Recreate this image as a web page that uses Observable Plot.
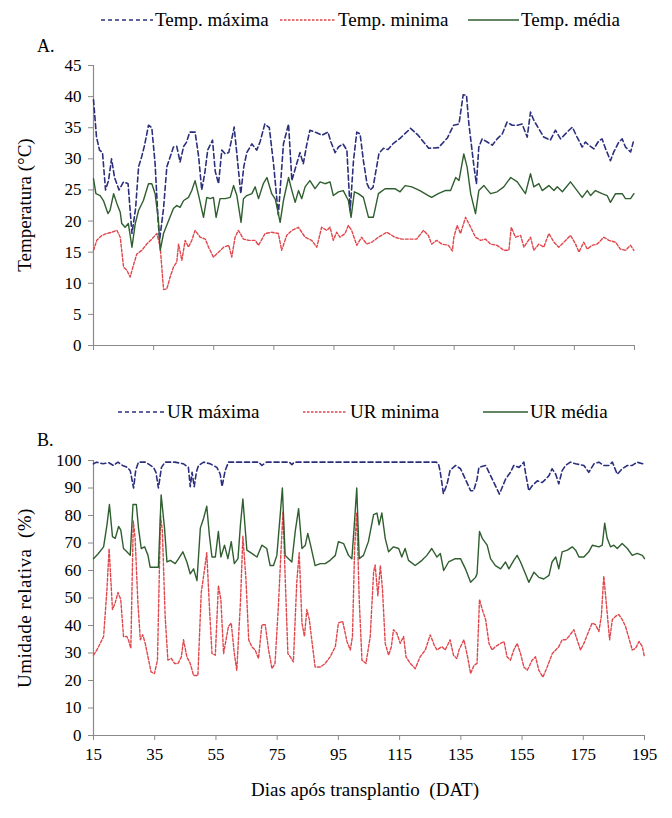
<!DOCTYPE html>
<html><head><meta charset="utf-8">
<script src="https://cdn.jsdelivr.net/npm/d3@7"></script>
<script src="https://cdn.jsdelivr.net/npm/@observablehq/plot@0.6"></script>
<style>
body{margin:0;background:#fff;}
#wrap{position:relative;width:672px;height:818px;font-family:"Liberation Serif","Times New Roman",serif;color:#000;overflow:hidden;}
.t{position:absolute;white-space:nowrap;line-height:1;}
</style></head><body><div id="wrap"></div>
<script>
// ---- Data (day after transplanting, value) ----
const xTicks = [15,35,55,75,95,115,135,155,175,195];
const yTicksA = [0,5,10,15,20,25,30,35,40,45];
const yTicksB = [0,10,20,30,40,50,60,70,80,90,100];

const tMax = [[15,39.5],[16,33.5],[17,31.4],[18,31],[19,25],[20,26.5],[21,30],[22,27],[23.5,25],[25,26.3],[26.5,26],[27.8,18],[29,22],[30,28.7],[31,30.3],[32,32.2],[33.3,35.4],[34.4,35],[35.5,29.2],[36.5,20],[37,17],[38.3,22],[39.4,28.7],[40.5,30.3],[41.6,31.9],[42.7,32],[43.8,29.5],[45,32],[46,32.7],[47,34.3],[48.8,34.3],[50,30.3],[51,25],[52,27.6],[53,31.4],[54.6,33],[55.5,28],[56.6,26],[57.7,31.4],[58.8,30.8],[60,31],[61,33.2],[61.8,35.1],[62.7,30.8],[64,24.4],[65,28.7],[66,31],[67.7,32.4],[69.3,31.4],[70.4,32.7],[72,35.6],[73.5,35],[74.9,29.2],[76.5,21],[78.2,32.4],[79.9,35.6],[81,26.5],[82.6,29.2],[83.7,31],[84.8,29.2],[86,32.4],[87,34.6],[88.7,34.3],[91,33.8],[93,34.3],[94,32.7],[95.4,31],[96.5,31.9],[98,32.4],[99.3,31.4],[100.4,21.7],[101.5,29.7],[102.6,34.3],[103.7,34],[104.8,29.7],[106,26],[107,25],[108,25.4],[110,30.9],[111.5,31.7],[113,31.5],[114.8,32.5],[117,33.3],[120.5,34.9],[123,33.8],[126.5,31.7],[129.8,31.8],[132.8,33.4],[134.8,35.4],[136.6,35.6],[138,40.3],[139.1,40.2],[139.9,35.6],[141.6,28.7],[142.4,26],[143.2,31.9],[144.3,33.2],[146,32.7],[147.7,32.2],[149.3,33.2],[151,34],[152.6,35.9],[154.3,35.4],[156,35.4],[157.6,35.6],[159.3,33.5],[160.4,37.5],[161.5,36.2],[163.2,34.8],[164.8,33.5],[167,33],[168.7,34.6],[170.4,33.2],[172.6,34.3],[174.3,35.1],[175.9,33.5],[177.6,31.9],[178.7,32.7],[179.8,32.2],[181.5,31.6],[183.1,32.9],[184.2,33.2],[185.4,31.6],[187,29.7],[188.1,31.1],[189.8,32.7],[190.9,33.2],[192,31.9],[193.7,31.1],[194.6,32.7]];

const tMin = [[15,15.3],[16.1,16.9],[17.8,17.7],[19.4,18],[21.1,18.2],[22.8,18.5],[23.9,17.4],[25,12.6],[26.1,12.1],[27.2,11],[28.1,12.6],[29.4,14.7],[31.1,15.3],[32.7,16.3],[34.4,17.1],[36.1,18],[37.2,15.8],[38.3,9],[39.4,9.1],[40.5,11],[41.6,12.6],[42.7,13.4],[43.3,16.3],[44.4,13.7],[45.5,16.9],[46.6,15.8],[47.7,16.9],[48.8,18.5],[50.5,17.4],[52.2,17.1],[53.3,15.8],[54.9,14.2],[56.6,15],[58.3,15.8],[60,16.1],[61,14.2],[62.1,17.4],[63.2,18.5],[64.9,17.1],[66.6,16.9],[68.8,16.9],[69.9,16.1],[72.1,18],[74.3,18.2],[76.5,18],[77.6,15.3],[79.3,17.7],[81,18.5],[83.2,19],[85.4,17.4],[87.6,16.9],[89.3,15.8],[90.9,19],[92.6,18.5],[93.7,19],[94.8,16.9],[95.9,18.2],[97,17.4],[98.7,18],[99.8,19.3],[100.9,18.5],[102.6,16.1],[104.2,17.4],[105.9,16.3],[107.6,16.6],[109.8,17.4],[112.6,18.2],[115.3,17.4],[117.5,17.1],[119.8,17.1],[122.5,17.1],[124.8,18.5],[126.4,17.7],[127.5,16.3],[129.2,16.9],[130.9,16.3],[133.1,16.1],[134.4,15.2],[134.9,17.4],[136,19.3],[137.1,18],[138.8,20.6],[140.5,19],[142.1,17.4],[143.8,16.9],[145.4,17.1],[147.1,16.3],[149.3,16.1],[151.5,15.3],[153.2,15.3],[154,19],[155.4,17.4],[157.1,17.7],[158.2,15.8],[160.4,17.4],[161.5,15.3],[163.2,16.3],[164.8,15.8],[166.5,18],[168.2,16.6],[169.8,15.8],[171.5,16.6],[173.7,17.7],[175.4,16.3],[176.5,15],[178.1,16.6],[179.3,15.5],[180.9,16.1],[182.6,16.3],[184.8,17.4],[186.5,16.9],[188.7,16.6],[190.3,15.5],[192,15.3],[193.7,16.1],[194.8,15.3]];

const tMean = [[15,26.8],[15.8,24.4],[17.2,24.1],[18.3,23.3],[19.8,21.2],[20.5,21.7],[21.7,24.4],[22.8,22.8],[23.9,21.4],[24.4,19.6],[25.5,19],[26.6,19.6],[27.8,15.8],[28.9,19.6],[30,21.7],[31.6,23.3],[33.3,26],[34.4,26],[35.5,24.4],[36.6,20.1],[37.2,15.3],[38.3,18],[40,20.1],[41.6,22],[42.7,22.5],[43.8,22.2],[45,23.3],[46.6,23.8],[47.7,24.9],[48.8,26.5],[50,24.1],[51.6,20.6],[52.7,23.8],[53.8,23.6],[54.9,23.8],[55.8,20.6],[57.1,23.6],[58.8,23.6],[60.5,23.8],[61.6,25.7],[62.7,24.1],[64.1,19.8],[64.9,23.6],[66,24.1],[67.7,24.4],[68.8,25.5],[69.9,23.6],[71.5,26],[72.7,27],[74.3,24.4],[75.5,23.5],[77.1,19.8],[78.2,23.3],[79.9,27],[81,24.9],[82.1,23],[83.2,24.9],[84.3,23.6],[85.4,25.5],[87,26.5],[88.7,25.2],[90.4,26.3],[92,26],[93.7,26.3],[94.8,24.1],[96.5,24.7],[98.1,24.9],[99.8,23.3],[100.7,20.6],[101.8,24.7],[103.1,24.4],[104.8,23.8],[106.5,20.6],[108.1,20.6],[109.8,24.4],[112,25.2],[115.3,25.2],[117,24.7],[118.7,25.7],[120.9,25.5],[123.6,24.9],[126.4,24.1],[127.5,23.8],[129.7,24.4],[132,24.9],[133.8,24.9],[135.5,27],[136.6,26.5],[138.2,30.8],[139.3,28.7],[140.5,24.4],[142.1,21.2],[143.2,24.9],[144.9,25.7],[147.1,24.4],[149.3,24.7],[151.5,25.5],[153.8,27],[156,26.3],[158.7,24.4],[160.4,27.6],[161.5,25.5],[163.2,26],[164.3,24.9],[166.5,25.7],[168.2,24.9],[169.3,25.5],[171,24.7],[173.7,26.3],[175.9,24.9],[177.6,23.8],[179.3,24.9],[180.4,24.1],[182,24.9],[184.2,24.4],[185.9,24.1],[187,23],[188.7,24.4],[190.9,24.4],[192,23.6],[193.7,23.6],[194.8,24.4]];

const rhMax = [[15,98.8],[16,99.4],[18,98.8],[20,99.2],[21.5,98.2],[23,99.4],[24.5,98.2],[26,97.5],[27,96.3],[28.1,90],[28.8,96.5],[29.7,99.4],[32,99.4],[34.6,97.5],[35.4,95.7],[36.2,90],[37.2,97.5],[38.4,99.4],[41.6,99.4],[44.4,98.8],[46,97.5],[46.6,90.5],[47.2,95.7],[47.9,90.5],[48.6,95.7],[49.3,98.2],[51,99.4],[53.1,98.8],[55.3,97.5],[56.4,95],[57,90.5],[58,96.3],[59.1,99.4],[69,99.4],[70,98.2],[71.5,99.4],[79,99.4],[79.8,98.5],[80.6,99.4],[127,99.4],[127.7,98.8],[128.3,95.7],[129.3,88],[130.5,91.4],[131.5,96.5],[133.3,98.2],[134.9,97],[136.5,93.2],[138.2,89],[139.2,89],[140.3,93.2],[140.9,97.5],[143.1,98.2],[144.2,95.7],[145.8,92],[147.6,87.8],[148.5,90.2],[149.6,93.2],[151.2,95.7],[152.3,98.2],[154,97.5],[155.6,99.4],[156.1,95.7],[157.2,89],[158.3,90.8],[160,92.6],[161.6,92],[162.7,93.2],[163.8,94.5],[164.8,97],[166,95],[167,91.5],[168.1,96.3],[169.2,98.2],[170.8,99.4],[172.5,98.8],[175.2,98.2],[176.8,95.7],[178.5,98.8],[180.1,99.4],[181.7,98.2],[183.4,98.2],[184.5,99.4],[186.1,95],[187.7,97],[189.4,98.2],[191,98.2],[192.6,99.4],[194.3,98.8],[195,99.4]];

const rhMin = [[15,29.2],[16.1,31.1],[17.2,33.5],[18.3,36],[19.4,53.2],[20.1,68],[21.2,45.8],[22.1,48.3],[23,52],[23.9,49.5],[24.8,36],[25.9,36],[26.4,34.8],[27.2,31.7],[28,78],[28.6,71.7],[29.5,48.3],[30.3,34.8],[31.1,36.6],[31.9,33.5],[32.8,28.6],[33.8,23.1],[34.9,22.5],[35.9,27.4],[36.9,80],[37.5,74.2],[38.4,43.4],[39.3,27.4],[40.4,28],[41.5,26.2],[42.6,26.2],[43.7,28.6],[44.4,34.8],[45.5,28.6],[46.6,26.2],[47.7,21.8],[49.1,21.8],[50.2,52],[51.3,60.6],[52,66.5],[52.8,48.3],[53.7,29.8],[54.8,29.2],[55.8,54.5],[56.6,49.5],[57.5,29.8],[58.3,34.8],[59.1,39.7],[60,40.9],[61,29.8],[61.8,23.7],[63,48.3],[63.8,72.5],[64.8,56.9],[65.7,34.8],[66.7,32.3],[67.8,31.1],[68.9,28],[70,40.3],[71.1,40.3],[72.2,31.1],[73.3,24.3],[74.3,26.2],[75.4,47.1],[76.3,68],[76.9,81.5],[77.6,58.2],[78.5,29.8],[79.3,28.6],[80.3,26.8],[81.4,55.7],[82.2,66.5],[83.1,40.9],[83.9,36],[84.7,45.8],[85.5,42.2],[86.3,34.8],[87.4,24.9],[89.1,24.9],[90.7,26.2],[92.3,28.6],[94,32.3],[95,40.9],[96.4,41.5],[97.8,34.2],[98.9,31.1],[99.6,36],[100.3,68],[101,81],[101.8,49.5],[102.7,27.4],[104,26.2],[105.4,36],[106.5,59.4],[107,62],[107.9,50.8],[108.7,61.8],[109.4,53.2],[110.3,33.5],[111.4,29.2],[112.3,32.3],[113,38.5],[114.1,37.2],[115.2,33.5],[116.3,36],[117.1,28.6],[118.5,26.2],[120.1,24.3],[121.7,28.6],[123.4,31.1],[125,36.6],[126.3,32.9],[127.2,31.1],[128.8,32.3],[129.9,31.1],[131.5,34.8],[132.6,29.2],[133.7,28],[134.4,31.1],[136,34.8],[137.1,29.2],[138.2,22.5],[139.3,25.5],[140.3,26.2],[141.1,49.5],[142,45.8],[143.1,42.2],[144.2,33.5],[145.2,31.1],[146.3,32.3],[148,33.5],[149.1,34.2],[150.1,28.6],[151.2,27.4],[152.3,31.1],[153.4,33.5],[154.5,29.8],[155.6,24.9],[156.7,23.7],[158.3,27.4],[159.4,28.6],[160.5,23.7],[161.8,21.2],[163.2,24.9],[164.9,29.8],[166,31.1],[167,32.3],[168.1,34.8],[169.2,34.8],[170.3,36],[171.9,38.5],[173,34.8],[174.1,31.1],[175.2,33.5],[176.3,36.6],[177.9,40.9],[179,40.3],[180.1,37.8],[180.9,43.4],[181.7,58],[182.5,48.3],[183.6,34.8],[184.5,42.2],[185.6,43.4],[186.6,44],[187.7,42.2],[188.8,39.7],[189.9,35.4],[191,31.1],[192.1,31.7],[193.2,34.2],[194.3,32.3],[195,28.5]];

const rhMean = [[15,64.3],[16.6,66.2],[18.3,68.6],[19.4,76.6],[20.2,84],[21.2,72.3],[22.1,71.7],[23.2,76],[23.9,74.8],[24.8,68],[25.9,66.8],[27,65.5],[27.9,84],[29,84],[29.7,75.4],[30.6,68],[31.7,68.6],[32.8,65.5],[33.5,61.2],[36.2,61.2],[37.1,87.5],[38.2,75.4],[39,63.1],[40.1,63.7],[41.7,62.5],[42.8,64.3],[44.2,66.8],[45.5,63.1],[46.6,58.8],[47.7,60.6],[48.8,56.3],[49.9,75.4],[51,79.1],[52,83.4],[52.9,72.3],[53.7,64.9],[54.8,64.9],[55.8,74.2],[56.6,64.9],[57.8,69.2],[58.9,64.3],[60,70.5],[61,62.5],[62.2,64.3],[63,76.6],[63.8,86],[65.1,67.4],[66.7,66.2],[68.4,64.9],[70,69.2],[71.6,68],[72.7,61.8],[73.8,61.8],[74.9,65.5],[76,80.3],[76.7,90],[77.6,65.5],[78.7,64.3],[79.8,63.1],[80.9,74.2],[82,82.5],[83.1,68],[84.2,69.2],[85,73.5],[85.8,69.8],[87.4,61.8],[89.1,62.5],[90.7,62.5],[92.3,63.7],[94,65.5],[95,70.5],[96.7,69.8],[98.3,65.5],[99.4,64.3],[100.2,76.6],[101,90],[101.8,64.3],[103.2,65.5],[104.8,70.5],[106.5,80.3],[107.6,80.9],[108.3,76.6],[109.2,80.9],[110.3,71.7],[111.4,66.8],[113,68.6],[114.7,68],[115.7,64.9],[116.8,68],[117.9,63.7],[120.1,61.8],[122.3,63.7],[123.9,65.5],[125.5,68],[127.2,64.9],[128.3,66.2],[129.4,60],[131,63.1],[133.2,64.3],[134.9,64.3],[136.5,60.6],[138.2,55.7],[139.8,57.5],[140.3,58.8],[141.1,74.2],[142,71.7],[143.6,69.2],[144.7,64.3],[146.3,61.8],[148,60.6],[149.6,63.1],[150.7,60.6],[152.3,63.7],[153.4,65.5],[154.5,63.1],[156.1,58.8],[157.2,55.7],[158.9,59.4],[160.5,57.5],[162.1,56.9],[163.8,58.2],[164.8,63.1],[166,64.9],[167,60.6],[168.1,66.8],[169.8,67.4],[171.4,68.6],[172.5,67.4],[173.6,64.9],[175.2,64.9],[176.8,66.8],[178,69.2],[180.1,68.6],[181.2,69.2],[182,77.2],[182.8,71.7],[183.9,68.6],[185,69.2],[186.1,68],[187.7,69.8],[189.4,68],[191,65.5],[192.6,66.2],[194.3,65.5],[195,64.3]];

// ---- Styles ----
const C_MAX = "#2b2f7c", C_MIN = "#e0474c", C_MEAN = "#2f5e2f", AX = "#8a8a8a";
const DASH_MAX = "5,3", DASH_MIN = "3,1.8";
const FONT = "'Liberation Serif','Times New Roman',serif";

const wrap = document.getElementById("wrap");
const xy = d => ({x: d[0], y: d[1]});

function panel({yDomain, yTicks, series, top, height, marginTop, marginBottom, marginRight, showXLabels}) {
  const svg = Plot.plot({
    width: 672, height, marginLeft: 93, marginRight, marginTop, marginBottom,
    style: {fontFamily: FONT, fontSize: "17px", color: "#000", background: "transparent", overflow: "visible"},
    x: {domain: [15, 195]},
    y: {domain: yDomain},
    marks: [
      Plot.axisX({ticks: xTicks, tickSize: 5, tickPadding: 7, stroke: AX, fill: "#000", label: null,
        tickFormat: showXLabels ? (d => d) : (() => "")}),
      Plot.axisY({ticks: yTicks, tickSize: 5, tickPadding: 7, stroke: AX, fill: "#000", label: null}),
      Plot.ruleY([yDomain[0]], {stroke: AX, strokeWidth: 1.2}),
      Plot.ruleX([15], {stroke: AX, strokeWidth: 1.2}),
      Plot.line(series[0].map(xy), {x: "x", y: "y", stroke: C_MAX, strokeWidth: 1.6, strokeDasharray: DASH_MAX}),
      Plot.line(series[1].map(xy), {x: "x", y: "y", stroke: C_MIN, strokeWidth: 1.4, strokeDasharray: DASH_MIN}),
      Plot.line(series[2].map(xy), {x: "x", y: "y", stroke: C_MEAN, strokeWidth: 1.4})
    ]
  });
  svg.style.position = "absolute";
  svg.style.left = "0px";
  svg.style.top = top + "px";
  wrap.appendChild(svg);
}

panel({yDomain: [0, 45], yTicks: yTicksA, series: [tMax, tMin, tMean], top: 0, height: 355, marginTop: 65, marginBottom: 10, marginRight: 38, showXLabels: false});
panel({yDomain: [0, 100], yTicks: yTicksB, series: [rhMax, rhMin, rhMean], top: 400, height: 380, marginTop: 60, marginBottom: 45, marginRight: 28, showXLabels: true});

// ---- Text & legends ----
function text(str, left, top, size, extra = "") {
  const d = document.createElement("div");
  d.className = "t";
  d.textContent = str;
  d.style.cssText += `left:${left}px;top:${top}px;font-size:${size}px;${extra}`;
  wrap.appendChild(d);
  return d;
}
function swatch(left, cy, w, color, dash, sw) {
  const s = d3.create("svg").attr("width", w).attr("height", 6)
    .style("position", "absolute").style("left", left + "px").style("top", (cy - 3) + "px");
  s.append("line").attr("x1", 0).attr("x2", w).attr("y1", 3).attr("y2", 3)
    .attr("stroke", color).attr("stroke-width", sw).attr("stroke-dasharray", dash || null);
  wrap.appendChild(s.node());
}

const legendA = ["Temp. máxima", "Temp. minima", "Temp. média"];
const legendB = ["UR máxima", "UR minima", "UR média"];

swatch(101, 20, 52, C_MAX, "4,3", 1.6); text(legendA[0], 155, 10, 19);
swatch(280, 20, 56, C_MIN, "2.5,1.5", 1.5); text(legendA[1], 338, 10, 19);
swatch(468, 20, 51, C_MEAN, null, 1.6); text(legendA[2], 521, 10, 19);

swatch(118, 412, 47, C_MAX, "4,3", 1.6); text(legendB[0], 167, 402, 19);
swatch(303, 412, 44, C_MIN, "2.5,1.5", 1.5); text(legendB[1], 350, 402, 19);
swatch(483, 412, 45, C_MEAN, null, 1.6); text(legendB[2], 530, 402, 19);

text("A.", 37, 37, 18);
text("B.", 37, 431, 18);

text("Temperatura (°C)", 24, 205, 19, "transform:translate(-50%,-50%) rotate(-90deg);");
text("Umidade relativa  (%)", 24, 598, 19, "transform:translate(-50%,-50%) rotate(-90deg);white-space:pre;letter-spacing:0.5px;");
text("Dias após transplantio  (DAT)", 365, 789, 19, "transform:translate(-50%,-50%);white-space:pre;");
</script>
</body></html>
